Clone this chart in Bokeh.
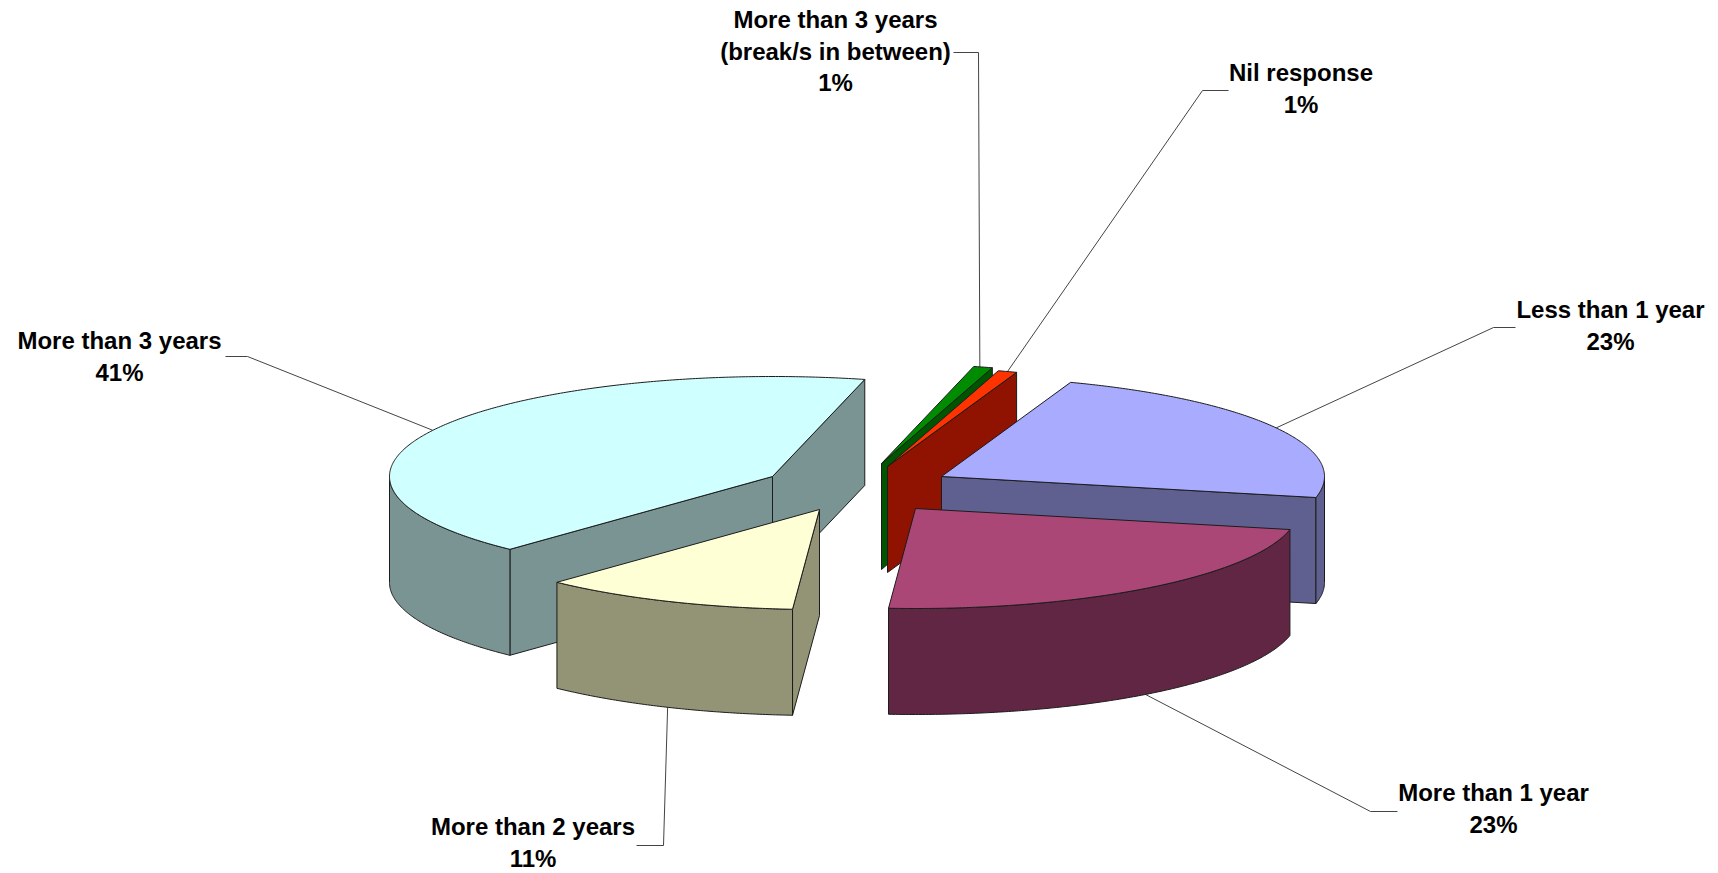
import math
from bokeh.plotting import figure
from bokeh.models import Range1d
from bokeh.core.properties import value
from bokeh.embed import file_html
from bokeh.resources import INLINE

# ---- data (clockwise from the first slice) ----
names = ["Less than 1 year", "More than 1 year", "More than 2 years", "More than 3 years",
         "More than 3 years\n(break/s in between)", "Nil response"]
shares = [22.9, 22.75, 10.9, 41.85, 0.8, 0.8]
pct_labels = ["23%", "23%", "11%", "41%", "1%", "1%"]

# ---- styles and layout ----
top_colors = ["#A9ABFF", "#AA4777", "#FFFFD5", "#D0FFFF", "#008C00", "#FF3300"]
side_colors = ["#5F6090", "#612644", "#939376", "#7A9393", "#005500", "#8F1300"]
apex_x = [941, 915, 819, 772, 881, 887]
apex_y = [476, 508, 509, 476, 463, 466]
label_x = [1610, 1493, 532.5, 119, 835, 1300.5]
label_y = [309, 792, 826, 340, 19, 72]
elbow = [(1493, 327, 1515), (1370, 811, 1397), (663, 845, 636), (247, 356, 225), (978, 52, 953), (1202, 90, 1228)]
leader_shift = [0, 0, -0.3, -1.1, -0.5, 0]
paint_order = [3, 4, 5, 0, 1, 2]
RX, RY, DEPTH = 383, 100, 106
START = 19.7
LINE_STEP = 31.7
FONT = value("Liberation Sans")
EDGE = "#1c1c1c"

p = figure(width=1718, height=873, output_backend="svg", toolbar_location=None,
           x_range=Range1d(0, 1718), y_range=Range1d(873, 0), min_border=0,
           background_fill_color="white", border_fill_color="white")
p.axis.visible = False
p.grid.visible = False
p.outline_line_color = None

angles = [START]
for s in shares:
    angles.append(angles[-1] + s * 3.6)


def rim(i, a):
    r = math.radians(a)
    return apex_x[i] + RX * math.sin(r), apex_y[i] - RY * math.cos(r)


def arc(i, a0, a1):
    n = max(2, int(abs(a1 - a0) * 2))
    return [rim(i, a0 + (a1 - a0) * k / n) for k in range(n + 1)]


def wall(i, pts):
    xs = [q[0] for q in pts] + [q[0] for q in reversed(pts)]
    ys = [q[1] for q in pts] + [q[1] + DEPTH for q in reversed(pts)]
    p.patch(xs, ys, fill_color=side_colors[i], line_color=EDGE, line_width=1)


# leader lines sit underneath the solid
for i in range(len(shares)):
    mid = (angles[i] + angles[i + 1]) / 2 + leader_shift[i]
    ax, ay = rim(i, mid)
    if math.cos(math.radians(mid)) < 0:
        ay += DEPTH
    ex, ey, tx = elbow[i]
    p.line([ax, ex, tx], [ay, ey, ey], line_color="#444444", line_width=1)

for i in paint_order:
    a0, a1 = angles[i], angles[i + 1]
    A = (apex_x[i], apex_y[i])
    # only the walls that face the viewer
    if math.sin(math.radians(a0)) < 0:
        wall(i, [A, rim(i, a0)])
    if math.sin(math.radians(a1)) > 0:
        wall(i, [A, rim(i, a1)])
    lo, hi = max(a0, 90), min(a1, 270)
    if hi > lo:
        wall(i, arc(i, lo, hi))
    outline = [A] + arc(i, a0, a1)
    p.patch([q[0] for q in outline], [q[1] for q in outline],
            fill_color=top_colors[i], line_color=EDGE, line_width=1)

for i in range(len(shares)):
    lines = names[i].split("\n") + [pct_labels[i]]
    ys = [label_y[i] + k * LINE_STEP for k in range(len(lines))]
    p.text([label_x[i]] * len(lines), ys, text=lines, text_font=FONT, text_font_style="bold",
           text_font_size="24px", text_align="center", text_baseline="middle", text_color="#000000")

open("out.html", "w").write(file_html(p, INLINE))
